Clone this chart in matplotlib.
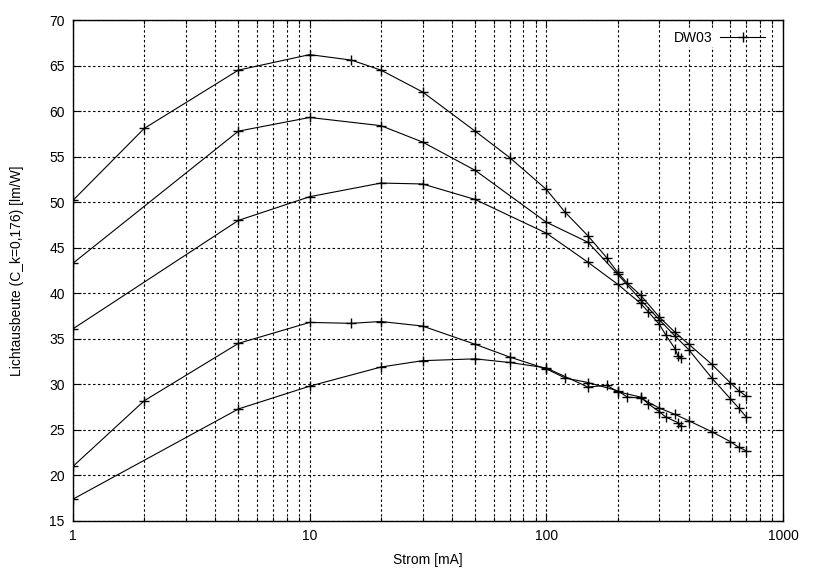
"""
Lichtausbeute vs Strom (DW03), gnuplot-style log-x plot.
Output: out.png
"""
import numpy as np
import matplotlib
matplotlib.use('Agg')
import matplotlib.pyplot as plt
from matplotlib.ticker import LogLocator, FixedLocator, NullFormatter

plt.rcParams.update({
    "font.family": ["Liberation Sans", "DejaVu Sans"],
    "font.size": 10,
    "xtick.direction": "in", "ytick.direction": "in",
    "xtick.top": True, "ytick.right": True,
})

# Kurve 1 (oben, lang)
strom_1 = [1, 2, 5, 10, 15, 20, 30, 50, 70, 100, 120, 150, 180, 200, 220, 250,
           300, 350, 400, 500, 600, 650, 700]
lm_1 = [50.2, 58.1, 64.5, 66.2, 65.6, 64.5, 62.1, 57.8, 54.9, 51.4, 48.9, 46.3,
        43.9, 42.3, 41.1, 39.8, 37.4, 35.7, 34.4, 32.2, 30.15, 29.3, 28.7]

# Kurve 2 (lang)
strom_2 = [1, 5, 10, 20, 30, 50, 100, 150, 200, 250, 300, 350, 400, 500, 600, 650, 700]
lm_2 = [43.3, 57.8, 59.3, 58.4, 56.6, 53.5, 47.8, 45.6, 42.1, 39.3, 37.1, 35.3,
        33.8, 30.7, 28.4, 27.4, 26.4]

# Kurve 3 (kurz)
strom_3 = [1, 5, 10, 20, 30, 50, 100, 150, 200, 250, 270, 300, 320, 350, 360, 370]
lm_3 = [36.1, 48.0, 50.6, 52.1, 52.0, 50.3, 46.6, 43.4, 41.0, 38.9, 37.95, 36.6,
        35.4, 33.9, 33.1, 32.9]

# Kurve 4 (lang)
strom_4 = [1, 2, 5, 10, 15, 20, 30, 50, 70, 100, 120, 150, 200, 220, 250, 300,
           350, 400, 500, 600, 650, 700]
lm_4 = [21.0, 28.2, 34.5, 36.8, 36.7, 36.9, 36.4, 34.4, 33.0, 31.7, 30.7, 30.2,
        29.3, 28.6, 28.5, 27.4, 26.7, 26.0, 24.8, 23.7, 23.1, 22.7]

# Kurve 5 (unten, kurz)
strom_5 = [1, 5, 10, 20, 30, 50, 70, 100, 150, 180, 200, 250, 270, 300, 320, 360, 370]
lm_5 = [17.4, 27.3, 29.8, 31.9, 32.6, 32.8, 32.4, 31.8, 29.7, 29.9, 29.2, 28.6,
        27.85, 27.0, 26.4, 25.8, 25.4]

curves = [(strom_1, lm_1), (strom_2, lm_2), (strom_3, lm_3),
          (strom_4, lm_4), (strom_5, lm_5)]

fig = plt.figure(figsize=(8.13, 5.70), dpi=100)
ax = fig.add_axes([0.0898, 0.086, 0.8733, 0.8789])

for i, (x, y) in enumerate(curves):
    ax.plot(x, y, color="black", lw=0.8, marker="+", markersize=7,
            markeredgewidth=1.0, label="DW03" if i == 0 else None, zorder=3)

ax.set_xscale("log")
ax.set_xlim(1, 1000)
ax.set_ylim(15, 70)
ax.set_yticks(np.arange(15, 71, 5))
ax.xaxis.set_major_locator(FixedLocator([1, 10, 100, 1000]))
ax.set_xticklabels(["1", "10", "100", "1000"])
ax.xaxis.set_minor_locator(LogLocator(base=10, subs=np.arange(2, 10)))
ax.xaxis.set_minor_formatter(NullFormatter())

grid_style = dict(color="black", lw=0.8, linestyle=(0, (2.2, 2.2)))
ax.grid(True, which="major", axis="both", **grid_style)
ax.grid(True, which="minor", axis="x", **grid_style)
ax.set_axisbelow(True)

ax.tick_params(which="major", length=6, width=0.8, pad=6)
ax.tick_params(which="minor", length=3, width=0.8)
for s in ax.spines.values():
    s.set_linewidth(1.0)

ax.set_xlabel("Strom [mA]", labelpad=7)
ax.set_ylabel("Lichtausbeute (C_k=0,176) [lm/W]", labelpad=18)

leg = ax.legend(loc="upper right", bbox_to_anchor=(0.99, 1.0), frameon=False,
                markerfirst=False, handlelength=3.2, handletextpad=0.6,
                borderaxespad=0.4, fontsize=10)
# gnuplot blanks the key text area
for t in leg.get_texts():
    t.set_bbox(dict(facecolor="white", edgecolor="none", pad=1.5))

fig.savefig("out.png", dpi=100)
